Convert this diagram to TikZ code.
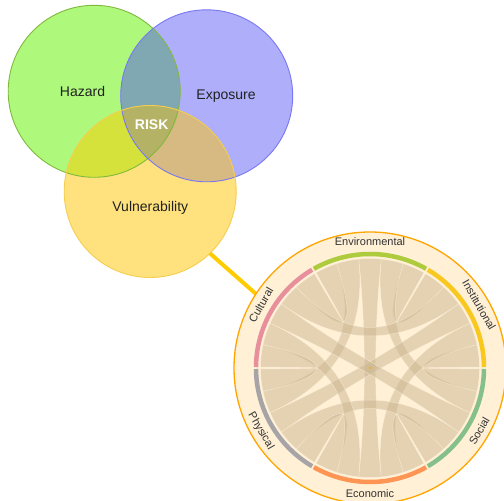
\documentclass[tikz,border=0pt]{standalone}
\usepackage{fontspec}
\setmainfont{Liberation Sans}
\definecolor{hcol}{RGB}{174,248,124}
\definecolor{ecol}{RGB}{174,174,250}
\definecolor{vcol}{RGB}{255,226,125}
\definecolor{hecol}{RGB}{127,168,178}
\definecolor{hvcol}{RGB}{214,226,60}
\definecolor{evcol}{RGB}{215,186,130}
\definecolor{hevcol}{RGB}{180,178,100}
\definecolor{hbord}{RGB}{128,185,60}
\definecolor{ebord}{RGB}{120,120,240}
\definecolor{vbord}{RGB}{245,205,80}
\definecolor{linkcol}{RGB}{255,204,0}
\definecolor{wheelfill}{RGB}{255,240,214}
\definecolor{wheelline}{RGB}{255,165,0}
\definecolor{ribboncol}{RGB}{203,182,144}
\definecolor{ribbonedge}{RGB}{255,243,222}
\definecolor{envcol}{RGB}{174,203,62}
\definecolor{inscol}{RGB}{249,200,30}
\definecolor{soccol}{RGB}{133,192,138}
\definecolor{ecocol}{RGB}{255,149,85}
\definecolor{phycol}{RGB}{166,164,166}
\definecolor{culcol}{RGB}{232,143,156}
\begin{document}
\begin{tikzpicture}[x=1pt,y=1pt,
  vennlabel/.style={font=\fontsize{14}{16}\selectfont, text=black!87},
  risklabel/.style={font=\fontsize{14}{16}\selectfont\bfseries, text=white},
  chordlabel/.style={font=\fontsize{11}{13}\selectfont, text=black!80, inner sep=0pt},
  ribbon/.style={fill=ribboncol, fill opacity=0.5, draw=ribbonedge, draw opacity=0.55, line width=0.5pt},
  band/.style={line width=4.5pt},
  link/.style={draw=linkcol, line width=4pt},
  anchorcircle/.style={circle, inner sep=0pt, outer sep=0pt},
]
\useasboundingbox (0,0) rectangle (504,501);
\coordinate (hc) at (94.2,409.7);
\coordinate (ec) at (206.7,405.2);
\coordinate (vc) at (150.2,309.5);
\coordinate (cc) at (370,133);
% Venn fills
\fill[hcol] (hc) circle[radius=86pt];
\fill[ecol] (ec) circle[radius=86pt];
\fill[vcol] (vc) circle[radius=86pt];
\begin{scope}
  \clip (hc) circle[radius=86pt];
  \fill[hecol] (ec) circle[radius=86pt];
  \fill[hvcol] (vc) circle[radius=86pt];
\end{scope}
\begin{scope}
  \clip (ec) circle[radius=86pt];
  \fill[evcol] (vc) circle[radius=86pt];
\end{scope}
\begin{scope}
  \clip (hc) circle[radius=86pt];
  \clip (ec) circle[radius=86pt];
  \fill[hevcol] (vc) circle[radius=86pt];
\end{scope}
\draw[hbord, line width=0.9pt] (hc) circle[radius=86pt];
\draw[ebord, line width=0.9pt] (ec) circle[radius=86pt];
\draw[vbord, line width=0.9pt] (vc) circle[radius=86pt];
\node[vennlabel] (haz) at (82.5,409) {Hazard};
\node[vennlabel] (exp) at (226,405) {Exposure};
\node[vennlabel] (vulab) at (150.3,293) {Vulnerability};
\node[risklabel] (risk) at (151.7,376) {RISK};
% anchor nodes
\node[anchorcircle, minimum size=172pt] (vul) at (vc) {};
\node[anchorcircle, minimum size=272pt] (wheel) at (cc) {};
\draw[link] (vul.-46) -- (wheel.147.5);
% wheel
\fill[wheelfill] (cc) circle[radius=136pt];
\draw[wheelline, line width=1.3pt] (cc) circle[radius=136pt];
\begin{scope}[shift={(cc)}]
  \foreach \k/\col in {0/envcol,1/inscol,2/soccol,3/ecocol,4/phycol,5/culcol}{
    \pgfmathsetmacro\a{120-60*\k-0.5}
    \pgfmathsetmacro\b{\a-59}
    \draw[band,\col] (\a:114pt) arc[start angle=\a, end angle=\b, radius=114pt];
  }
  \foreach \k/\j in {0/1,0/2,0/3,0/4,0/5,1/2,1/3,1/4,1/5,2/3,2/4,2/5,3/4,3/5,4/5}{
    \pgfmathsetmacro\m{mod(\k-1-\j+12,6)}
    \pgfmathsetmacro\n{mod(\j-1-\k+12,6)}
    \pgfmathsetmacro\aS{120-60*\k-0.5-\m*11.8}
    \pgfmathsetmacro\aE{\aS-11.8}
    \pgfmathsetmacro\bS{120-60*\j-0.5-\n*11.8}
    \pgfmathsetmacro\bE{\bS-11.8}
    \filldraw[ribbon] (\aS:109.5pt) arc[start angle=\aS, end angle=\aE, radius=109.5pt]
      .. controls (\aE:36.5pt) and (\bS:36.5pt) .. (\bS:109.5pt)
      arc[start angle=\bS, end angle=\bE, radius=109.5pt]
      .. controls (\bE:36.5pt) and (\aS:36.5pt) .. cycle;
  }
  \fill[wheelline] (0,0) circle[radius=1pt];
  \node[chordlabel, rotate=0] (lenv) at (90:126pt) {Environmental};
  \node[chordlabel, rotate=-60] (lins) at (30:126pt) {Institutional};
  \node[chordlabel, rotate=60] (lsoc) at (-30:126pt) {Social};
  \node[chordlabel, rotate=0] (leco) at (-90:126pt) {Economic};
  \node[chordlabel, rotate=-60] (lphy) at (210:126pt) {Physical};
  \node[chordlabel, rotate=60] (lcul) at (150:126pt) {Cultural};
\end{scope}
\end{tikzpicture}
\end{document}
